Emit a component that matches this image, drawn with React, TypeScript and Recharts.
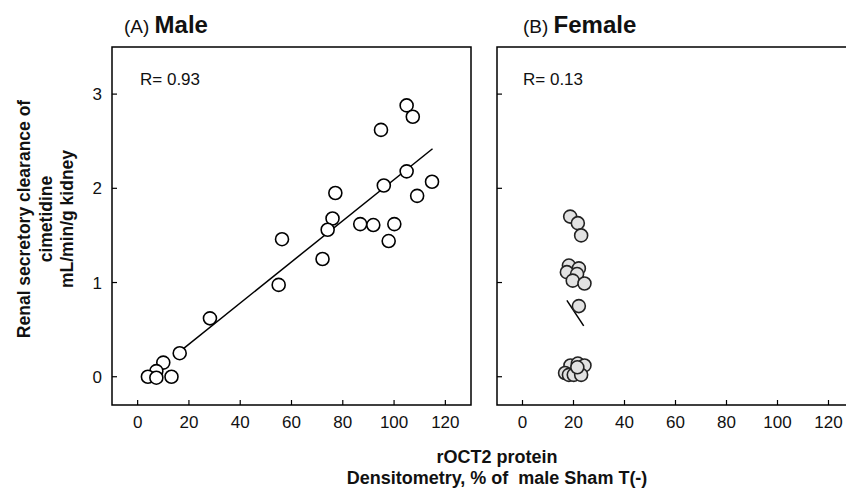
import React from "react";
import { ScatterChart, Scatter, XAxis, YAxis, ReferenceArea, ReferenceLine } from "recharts";

const xTicks = [0, 20, 40, 60, 80, 100, 120];
const yTicks = [0, 1, 2, 3];
const xDomain = [-10, 130];
const yDomain = [-0.3, 3.5];

const maleX = [104.9, 107.3, 94.9, 104.9, 96, 114.8, 77.1, 109, 76, 74.1, 86.8, 91.9, 100.1, 97.9, 56.3, 72.1, 55, 28.2, 16.4, 10, 7.3, 4, 7.3, 13.2];
const maleY = [2.88, 2.76, 2.62, 2.18, 2.03, 2.07, 1.95, 1.92, 1.68, 1.56, 1.62, 1.61, 1.62, 1.44, 1.46, 1.25, 0.975, 0.62, 0.25, 0.15, 0.06, 0.0, -0.01, 0.0];
const maleLineX = [17, 115];
const maleLineY = [0.28, 2.42];

const femaleX = [18.7, 21.7, 23, 18.2, 22.1, 17.4, 21.4, 19.7, 24.3, 22.1, 18.8, 21.7, 24.3, 16.7, 18.2, 20.1, 23, 21.5];
const femaleY = [1.7, 1.63, 1.5, 1.18, 1.15, 1.11, 1.09, 1.02, 0.99, 0.75, 0.12, 0.14, 0.12, 0.04, 0.02, 0.02, 0.02, 0.1];
const femaleLineX = [17.4, 24];
const femaleLineY = [0.81, 0.54];

const maleData = maleX.map((x, i) => ({ x, y: maleY[i] }));
const femaleData = femaleX.map((x, i) => ({ x, y: femaleY[i] }));

const FONT = "'Liberation Sans', Arial, sans-serif";

const XTick = (props: any) => {
  const { x, y, payload } = props;
  return (
    <g>
      <line x1={x} x2={x} y1={y} y2={y - 5} stroke="#000" strokeWidth={1.2} />
      <text x={x} y={y + 23} textAnchor="middle" fontSize={17} fontFamily={FONT} fill="#111">
        {payload.value}
      </text>
    </g>
  );
};

const makeYTick = (showLabel: boolean) => (props: any) => {
  const { x, y, payload } = props;
  return (
    <g>
      <line x1={x} x2={x + 5} y1={y} y2={y} stroke="#000" strokeWidth={1.2} />
      {showLabel && (
        <text x={x - 10} y={y + 6} textAnchor="end" fontSize={17} fontFamily={FONT} fill="#111">
          {payload.value}
        </text>
      )}
    </g>
  );
};

const circleShape = (fill: string, stroke: string) => (p: any) => (
  <circle cx={p.cx} cy={p.cy} r={6.5} fill={fill} stroke={stroke} strokeWidth={1.6} />
);

const Panel = ({ data, lineX, lineY, showYLabels, fill, stroke, width, margin }: any) => (
  <ScatterChart width={width} height={490} margin={margin}>
    <XAxis
      type="number"
      dataKey="x"
      domain={xDomain}
      ticks={xTicks}
      tickSize={0}
      tickMargin={0}
      axisLine={false}
      tick={XTick}
      height={30}
      allowDataOverflow
    />
    <YAxis
      type="number"
      dataKey="y"
      domain={yDomain}
      ticks={yTicks}
      tickSize={0}
      tickMargin={0}
      axisLine={false}
      tick={makeYTick(showYLabels)}
      width={30}
      allowDataOverflow
    />
    <ReferenceArea
      x1={xDomain[0]}
      x2={xDomain[1]}
      y1={yDomain[0]}
      y2={yDomain[1]}
      fill="none"
      fillOpacity={0}
      stroke="#000"
      strokeWidth={1.5}
    />
    <ReferenceLine
      segment={[
        { x: lineX[0], y: lineY[0] },
        { x: lineX[1], y: lineY[1] },
      ]}
      stroke="#000"
      strokeWidth={1.5}
    />
    <Scatter data={data} isAnimationActive={false} shape={circleShape(fill, stroke)} />
  </ScatterChart>
);

export default function App() {
  return (
    <div style={{ position: "absolute", left: 0, top: 0, width: 846, height: 490, overflow: "hidden", background: "#fff" }}>
      <div style={{ position: "absolute", left: 0, top: 0 }}>
        <Panel
          data={maleData}
          lineX={maleLineX}
          lineY={maleLineY}
          showYLabels
          fill="#fff"
          stroke="#000"
          width={480}
          margin={{ top: 47, right: 9, bottom: 55, left: 82 }}
        />
      </div>
      <div style={{ position: "absolute", left: 480, top: 0 }}>
        <Panel
          data={femaleData}
          lineX={femaleLineX}
          lineY={femaleLineY}
          showYLabels={false}
          fill="#e2e2e2"
          stroke="#222"
          width={400}
          margin={{ top: 47, right: 26, bottom: 55, left: -13 }}
        />
      </div>
      <svg width={846} height={490} style={{ position: "absolute", left: 0, top: 0, pointerEvents: "none" }} fontFamily={FONT}>
        <text x={124} y={33} fontSize={19} fill="#111">
          (A) <tspan fontSize={24} fontWeight="bold">Male</tspan>
        </text>
        <text x={523} y={33} fontSize={19} fill="#111">
          (B) <tspan fontSize={24} fontWeight="bold">Female</tspan>
        </text>
        <text x={140} y={85} fontSize={17} fill="#111">R= 0.93</text>
        <text x={523} y={85} fontSize={17} fill="#111">R= 0.13</text>
        <g transform="translate(0,219) rotate(-90)" fontWeight="bold" fontSize={17.5} fill="#111" textAnchor="middle">
          <text x={0} y={30}>Renal secretory clearance of</text>
          <text x={0} y={52}>cimetidine</text>
          <text x={0} y={73}>mL/min/g kidney</text>
        </g>
        <text x={497} y={463} textAnchor="middle" fontWeight="bold" fontSize={18} fill="#111">rOCT2 protein</text>
        <text x={497} y={484} textAnchor="middle" fontWeight="bold" fontSize={18} fill="#111" style={{ whiteSpace: "pre" }}>
          Densitometry, % of  male Sham T(-)
        </text>
      </svg>
    </div>
  );
}
